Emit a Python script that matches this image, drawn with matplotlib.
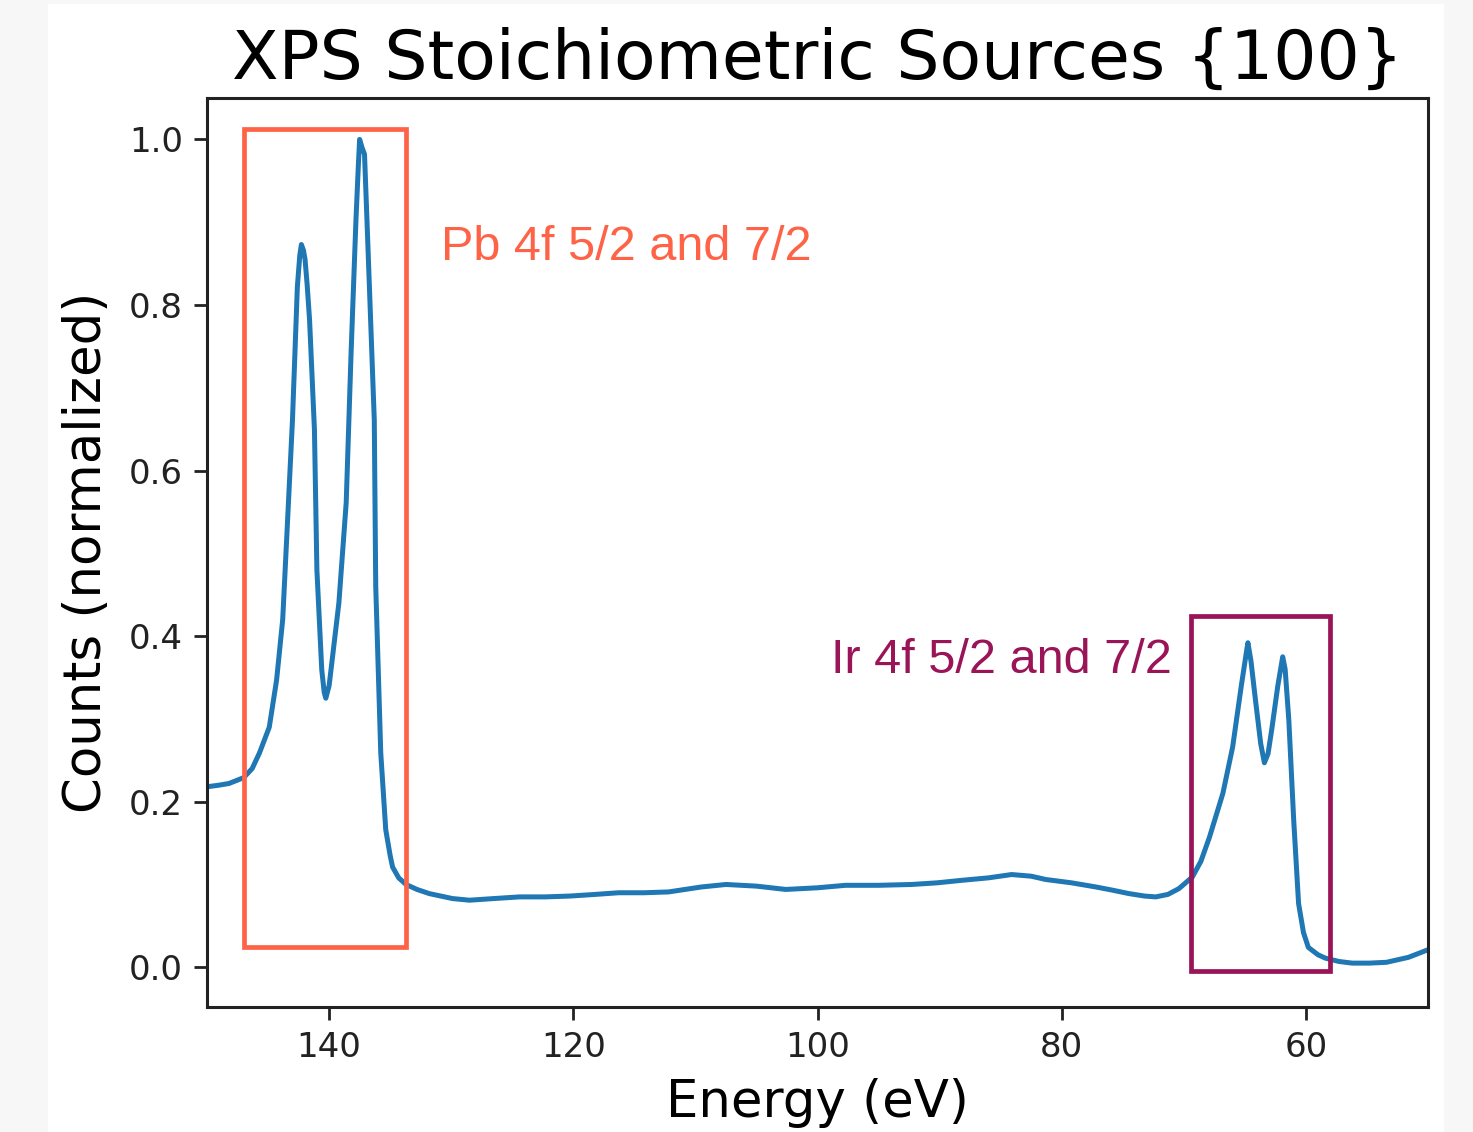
import matplotlib
matplotlib.use("Agg")
import matplotlib.pyplot as plt
from matplotlib.patches import Rectangle

# binding energy (eV) and normalized counts of the survey spectrum
energy = [150.0, 149.0, 148.2, 147.0, 146.3, 145.7, 144.9, 144.3, 143.8, 143.4,
          143.0, 142.6, 142.4, 142.27, 142.1, 141.97, 141.8, 141.6, 141.2, 141.0,
          140.6, 140.4, 140.27, 140.0, 139.75, 139.2, 138.6, 138.2, 137.8, 137.6,
          137.5, 137.3, 137.1, 136.9, 136.6, 136.3, 136.18, 135.77, 135.36, 135.0,
          134.8, 134.3, 133.7, 132.8, 131.8, 129.9, 128.5, 126.5, 124.4, 122.3,
          120.3, 118.2, 116.3, 114.2, 112.2, 109.5, 107.5, 105.0, 102.6, 100.0,
          97.7, 95.0, 92.3, 90.2, 88.2, 86.0, 84.1, 82.5, 81.3, 79.2,
          77.2, 75.8, 74.5, 73.2, 72.3, 71.3, 70.4, 69.3, 68.6, 67.9,
          66.8, 66.0, 65.3, 64.9, 64.75, 64.5, 64.1, 63.7, 63.4, 63.1,
          62.8, 62.3, 61.9, 61.7, 61.4, 61.0, 60.6, 60.2, 59.8, 59.0,
          58.4, 57.3, 56.2, 54.8, 53.4, 51.6, 50.2]
counts = [0.218, 0.220, 0.222, 0.229, 0.240, 0.259, 0.290, 0.347, 0.420, 0.540,
          0.661, 0.822, 0.860, 0.873, 0.866, 0.855, 0.825, 0.782, 0.649, 0.480,
          0.359, 0.332, 0.325, 0.340, 0.371, 0.440, 0.561, 0.742, 0.903, 0.970,
          1.000, 0.990, 0.982, 0.903, 0.782, 0.661, 0.460, 0.259, 0.166, 0.135,
          0.121, 0.108, 0.100, 0.094, 0.089, 0.083, 0.081, 0.083, 0.085, 0.085,
          0.086, 0.088, 0.090, 0.090, 0.091, 0.097, 0.100, 0.098, 0.094, 0.096,
          0.099, 0.099, 0.100, 0.102, 0.105, 0.108, 0.112, 0.110, 0.106, 0.102,
          0.097, 0.093, 0.089, 0.086, 0.085, 0.088, 0.095, 0.109, 0.128, 0.157,
          0.210, 0.266, 0.339, 0.378, 0.392, 0.370, 0.319, 0.270, 0.247, 0.258,
          0.287, 0.340, 0.375, 0.360, 0.299, 0.178, 0.077, 0.042, 0.024, 0.015,
          0.011, 0.007, 0.005, 0.005, 0.006, 0.012, 0.020]

# highlighted peak regions: (low eV, high eV, bottom, top)
pb_region = (133.7, 147.0, 0.025, 1.013)
ir_region = (58.0, 69.4, -0.004, 0.424)
pb_label = "Pb 4f 5/2 and 7/2"
ir_label = "Ir 4f 5/2 and 7/2"
pb_color = "#ff6347"
ir_color = "#9a1458"

W, H = 1473, 1132
fig = plt.figure(figsize=(W / 100, H / 100), dpi=100, facecolor="#f7f7f7")
fig.patches.append(Rectangle((48 / W, 0), (1443 - 48) / W, (H - 4) / H,
                             transform=fig.transFigure, color="white", zorder=-1))

ax = fig.add_axes([207 / W, 1 - 1007 / H, (1428 - 207) / W, (1007 - 98) / H])
ax.plot(energy, counts, color="#1f77b4", lw=3.6)

ax.set_xlim(150, 50)
ax.set_ylim(-0.048, 1.05)
ax.set_xticks([140, 120, 100, 80, 60])
ax.set_yticks([0.0, 0.2, 0.4, 0.6, 0.8, 1.0])

for lo, hi, bot, top, col in [(*pb_region, pb_color), (*ir_region, ir_color)]:
    ax.add_patch(Rectangle((lo, bot), hi - lo, top - bot, fill=False,
                           edgecolor=col, lw=3.4, zorder=3))

ax.text(130.83, 0.854, pb_label, color=pb_color, fontsize=35,
        family="Liberation Sans", ha="left", va="baseline")
ax.text(98.9, 0.356, ir_label, color=ir_color, fontsize=35,
        family="Liberation Sans", ha="left", va="baseline")

ax.set_title("XPS Stoichiometric Sources {100}", fontsize=49, pad=14)
ax.set_xlabel("Energy (eV)", fontsize=37, labelpad=10)
ax.set_ylabel("Counts (normalized)", fontsize=37, labelpad=12)
ax.tick_params(labelsize=24.5, length=9.4, width=2, pad=8, color="#222222",
               labelcolor="#222222")
for s in ax.spines.values():
    s.set_linewidth(2.2)
    s.set_color("#222222")

fig.savefig("out.png", dpi=100, facecolor=fig.get_facecolor())
